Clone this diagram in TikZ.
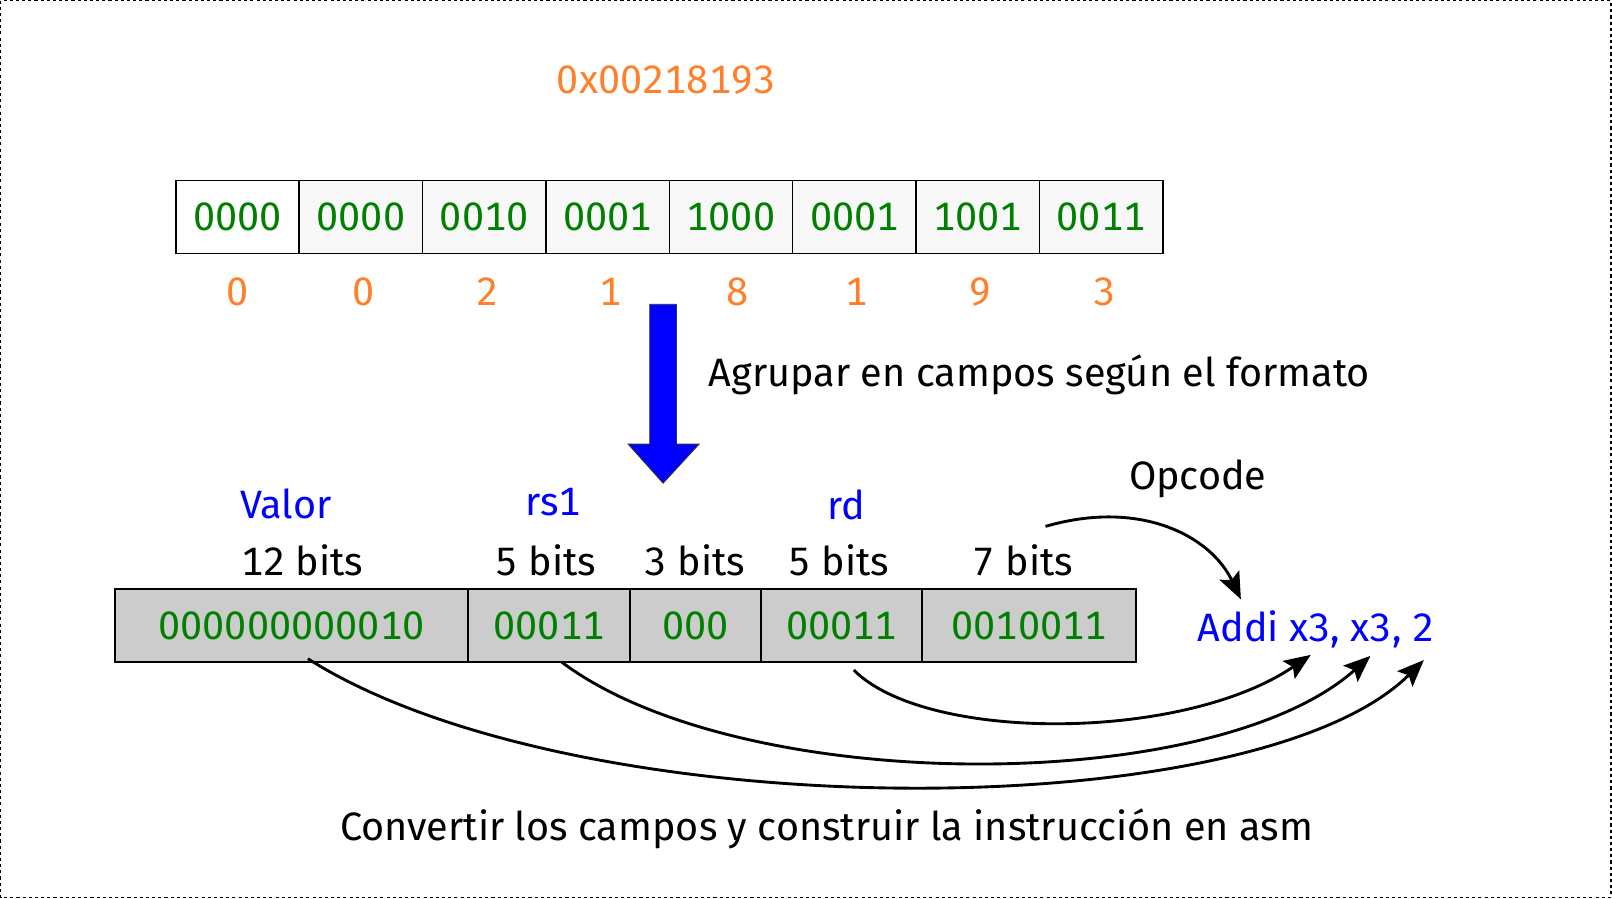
\documentclass[tikz,border=0pt]{standalone}
\usepackage{fontspec}
\setmainfont{Fira Sans}[Numbers=Monospaced]
\usetikzlibrary{arrows.meta,calc}
\definecolor{hexorange}{RGB}{255,127,42}
\definecolor{bitgreen}{RGB}{0,128,0}
\definecolor{cellgray}{RGB}{248,248,248}
\definecolor{fieldgray}{RGB}{204,204,204}

\begin{document}
\begin{tikzpicture}[x=1pt, y=-1pt, font=\fontsize{38.5}{44}\selectfont,
  nib/.style={draw, line width=1.5pt, minimum width=120pt, minimum height=71pt, fill=cellgray, text=bitgreen, inner sep=0pt},
  field/.style={draw, line width=1.5pt, minimum height=71pt, fill=fieldgray, text=bitgreen, inner sep=0pt},
  hexdig/.style={text=hexorange},
  fieldname/.style={text=blue},
  link/.style={line width=2.8pt, -{Stealth[length=26pt,width=21pt,inset=5pt]}}]
\useasboundingbox (0,0) rectangle (1568,874);
\draw [dash pattern=on 3pt off 3pt, line width=1pt] (0.5,0.5) rectangle (1567,873);

\node[hexdig] (hex) at (648,78) {0x00218193};

\node[nib, fill=white] (n1) at (231,211) {0000};
\node[nib] (n2) at (351,211) {0000};
\node[nib] (n3) at (471,211) {0010};
\node[nib] (n4) at (591,211) {0001};
\node[nib] (n5) at (711,211) {1000};
\node[nib] (n6) at (831,211) {0001};
\node[nib] (n7) at (951,211) {1001};
\node[nib] (n8) at (1071,211) {0011};

\node[hexdig] (d1) at (231,284) {0};
\node[hexdig] (d2) at (354,284) {0};
\node[hexdig] (d3) at (474,284) {2};
\node[hexdig] (d4) at (594,284) {1};
\node[hexdig] (d5) at (717,284) {8};
\node[hexdig] (d6) at (833,284) {1};
\node[hexdig] (d7) at (954,284) {9};
\node[hexdig] (d8) at (1074,284) {3};

\filldraw [fill=blue, draw=black!80, line width=0.8pt]
  (632,296) -- (658,296) -- (658,432) -- (680,432) -- (645,470) -- (611,432) -- (632,432) -- cycle;
\node[anchor=west] (group) at (686,365) {Agrupar en campos según el formato};

\node[fieldname] (valor) at (278,490) {Valor};
\node[fieldname] (rsone) at (538,488) {rs1};
\node[fieldname] (rd) at (823,491) {rd};
\node (opcode) at (1165,466) {Opcode};

\node (w1) at (294,545) {12 bits};
\node (w2) at (531,545) {5 bits};
\node (w3) at (676,545) {3 bits};
\node (w4) at (816,545) {5 bits};
\node (w5) at (995,545) {7 bits};

\node[field, minimum width=343pt] (f1) at (283.5,608.5) {000000000010};
\node[field, minimum width=158pt] (f2) at (534,608.5) {00011};
\node[field, minimum width=127pt] (f3) at (676.5,608.5) {000};
\node[field, minimum width=157pt] (f4) at (818.5,608.5) {00011};
\node[field, minimum width=208pt] (f5) at (1001,608.5) {0010011};

\node[fieldname] (asm) at (1280,612) {Addi x3, x3, 2};
\node (build) at (804,806) {Convertir los campos y construir la instrucción en asm};

\coordinate (op1) at (1017,512);
\coordinate (op2) at (1207,583);
\coordinate (t1) at (1275,637);
\coordinate (t2) at (1333,638);
\coordinate (t3) at (1385,642);

\draw[link] (op1) .. controls (1110,485) and (1178,522) .. (op2);
\draw[link] ($(f4.south)+(12,7)$) .. controls (900,722) and (1150,722) .. (t1);
\draw[link] ($(f2.south)+(12,-1)$) .. controls (720,775) and (1180,775) .. (t2);
\draw[link] ($(f1.south)+(16,-4)$) .. controls (560,806) and (1220,806) .. (t3);
\end{tikzpicture}
\end{document}
